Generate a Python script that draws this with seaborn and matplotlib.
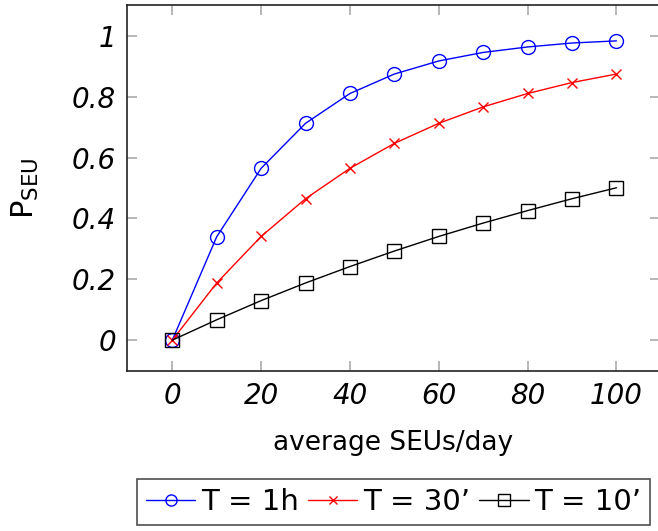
import matplotlib
matplotlib.use("Agg")
import matplotlib.pyplot as plt
import seaborn as sns
import pandas as pd

# average SEUs/day
seus = [0, 10, 20, 30, 40, 50, 60, 70, 80, 90, 100]

# P_SEU
p_1h = [0, 0.34, 0.565, 0.713, 0.811, 0.875, 0.918, 0.946, 0.964, 0.977, 0.984]
p_30m = [0, 0.188, 0.341, 0.465, 0.565, 0.647, 0.713, 0.767, 0.811, 0.847, 0.875]
p_10m = [0, 0.067, 0.130, 0.188, 0.242, 0.293, 0.341, 0.385, 0.426, 0.465, 0.501]

labels = ["T = 1h", "T = 30\u2019", "T = 10\u2019"]
colors = ["blue", "red", "black"]
markers = ["o", "x", "s"]

sns.set_style("white")
plt.rcParams["font.family"] = ["DejaVu Sans"]
plt.rcParams["mathtext.fontset"] = "dejavusans"
plt.rcParams["text.color"] = "black"
plt.rcParams["axes.labelcolor"] = "black"
plt.rcParams["xtick.color"] = "black"
plt.rcParams["ytick.color"] = "black"

fig = plt.figure(figsize=(6.58, 5.31), dpi=100)
ax = fig.add_axes([0.193, 0.301, 0.81, 0.6896])

for vals, lab, col, mk in zip([p_1h, p_30m, p_10m], labels, colors, markers):
    df = pd.DataFrame({"x": seus, "y": vals})
    sns.lineplot(data=df, x="x", y="y", ax=ax, color=col, marker=mk,
                 markersize=10 if mk != "x" else 7,
                 markerfacecolor="none", markeredgecolor=col,
                 markeredgewidth=1.0, linewidth=1.0, label=lab)

ax.set_xlim(-10.2, 109.8)
ax.set_ylim(-0.102, 1.102)
ax.set_xticks([0, 20, 40, 60, 80, 100])
ax.set_yticks([0, 0.2, 0.4, 0.6, 0.8, 1])
ax.set_xticklabels(["0", "20", "40", "60", "80", "100"], fontsize=20, fontstyle="italic")
ax.set_yticklabels(["0", "0.2", "0.4", "0.6", "0.8", "1"], fontsize=20, fontstyle="italic")
ax.tick_params(direction="in", length=7, width=1.2, color="#aaaaaa",
               labelcolor="black", top=True, right=True, bottom=True, left=True, pad=8)
for sp in ax.spines.values():
    sp.set_visible(True)
    sp.set_color("#222222")
    sp.set_linewidth(1.2)

ax.set_xlabel("average SEUs/day", fontsize=19, labelpad=14)
ax.set_ylabel(r"P$_{\mathrm{SEU}}$", fontsize=22, labelpad=22)

leg = ax.legend(loc="upper left", bbox_to_anchor=(0.0189, -0.295), ncol=3,
                fontsize=21, frameon=True, fancybox=False, edgecolor="#222222",
                handlelength=1.7, handletextpad=0.2, columnspacing=0.3,
                borderpad=0.3, borderaxespad=0, markerscale=0.8)
leg.get_frame().set_linewidth(1.2)

fig.savefig("out.png", dpi=100)
